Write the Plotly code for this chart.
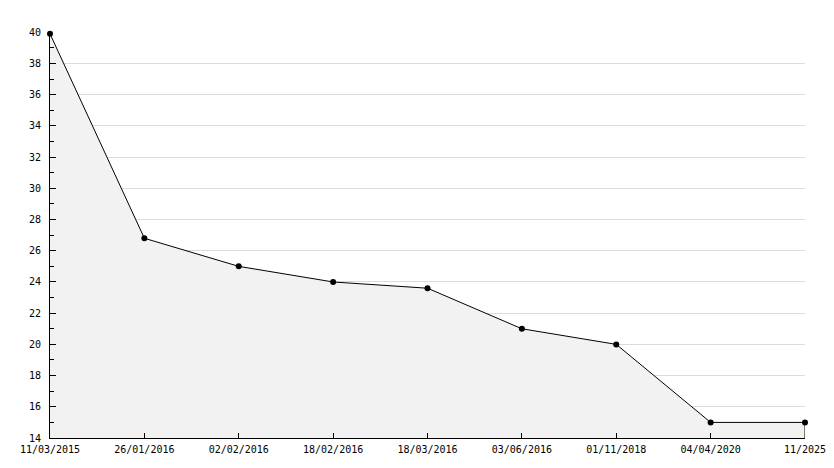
import plotly.graph_objects as go

# fechas (eje categórico) y valores
fechas = ["11/03/2015", "26/01/2016", "02/02/2016", "18/02/2016", "18/03/2016",
          "03/06/2016", "01/11/2018", "04/04/2020", "11/2025"]
valores = [39.9, 26.8, 25.0, 24.0, 23.6, 21.0, 20.0, 15.0, 15.0]

y_min, y_max = 14, 40

fig = go.Figure()
fig.add_trace(
    go.Scatter(
        x=fechas,
        y=valores,
        mode="lines+markers",
        fill="tozeroy",
        fillcolor="#f2f2f2",
        line=dict(color="black", width=1),
        marker=dict(color="black", size=6, symbol="circle"),
        cliponaxis=False,
        hoverinfo="skip",
    )
)
# borde derecho del área rellena
fig.add_trace(
    go.Scatter(
        x=[fechas[-1], fechas[-1]],
        y=[valores[-1], y_min],
        mode="lines",
        line=dict(color="black", width=1),
        cliponaxis=False,
        hoverinfo="skip",
    )
)

fig.update_layout(
    width=834,
    height=468,
    showlegend=False,
    plot_bgcolor="white",
    paper_bgcolor="white",
    margin=dict(l=50, r=29, t=32, b=30, autoexpand=False),
    font=dict(family="DejaVu Sans Mono", size=10, color="black"),
)
fig.update_xaxes(
    type="category",
    range=[0, len(fechas) - 1],
    automargin=False,
    showgrid=False,
    showline=True,
    linecolor="black",
    linewidth=1,
    ticks="inside",
    ticklen=5,
    tickcolor="black",
    ticklabelstandoff=2,
)
fig.update_yaxes(
    range=[y_min, y_max + 0.02],
    tickvals=list(range(y_min, y_max + 1, 2)),
    automargin=False,
    showgrid=True,
    gridcolor="#dcdcdc",
    gridwidth=1,
    zeroline=False,
    showline=True,
    linecolor="black",
    linewidth=1,
    ticks="inside",
    ticklen=6,
    tickcolor="black",
    ticklabelstandoff=6,
    minor=dict(dtick=1, ticks="inside", ticklen=4, tickcolor="black", showgrid=False),
)

# sin margen del <body> para que la figura ocupe la ventana completa
fig.write_html(
    "out.html",
    config={"displayModeBar": False},
    post_script="document.body.style.margin='0px';",
)
